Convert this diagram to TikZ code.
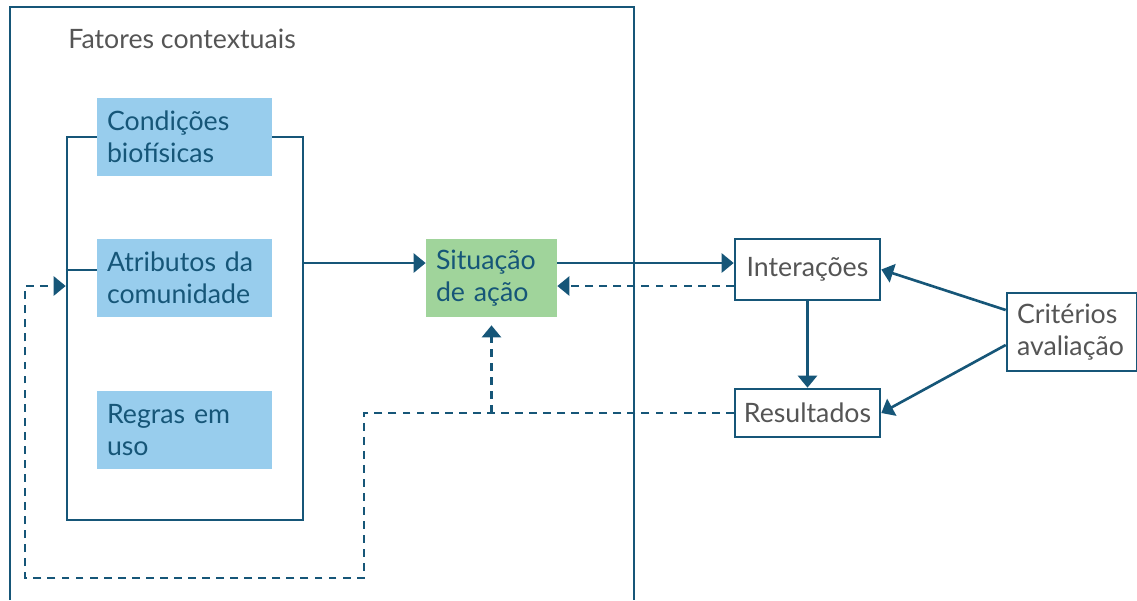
\documentclass[tikz,border=0pt]{standalone}
\usepackage{fontspec}
\setmainfont{Lato}
\usetikzlibrary{positioning}
\usetikzlibrary{arrows.meta}
\definecolor{azulescuro}{RGB}{22,86,120}
\definecolor{azulclaro}{RGB}{152,205,237}
\definecolor{verdeclaro}{RGB}{160,212,155}
\definecolor{cinza}{RGB}{85,85,85}
\tikzset{
    texto/.style={font=\fontsize{15.2pt}{18.2pt}\selectfont},
    fator/.style={texto, fill=azulclaro, text=azulescuro, minimum width=3.5cm,
        minimum height=1.56cm, text width=3.1cm, inner xsep=0.2cm, align=left},
    resultado/.style={texto, draw=azulescuro, line width=1.5pt, fill=white,
        text=cinza, minimum width=2.9cm},
    seta/.style={draw=azulescuro, line width=1.5pt,
        -{Triangle[length=0.24cm, width=0.38cm]}},
    tracejada/.style={seta, dash pattern=on 4.5pt off 3.5pt}
}

\begin{document}
\begin{tikzpicture}[x=0.02cm, y=-0.02cm]
    \useasboundingbox (0, 0) rectangle (1137, 600);
    \draw[azulescuro, line width=1.5pt] (10, 600) -- (10, 7) -- (634, 7) -- (634, 600);
    \node[texto, text=cinza, anchor=base west, inner sep=0pt] (titulo) at (68, 48)
        {Fatores contextuais};

    \node[draw=azulescuro, line width=1.5pt, minimum width=4.72cm,
        minimum height=7.66cm, inner sep=0pt] (grupo) at (185, 328.5) {};
    \node[fator] (cond) at (184.5, 137) {Condições\\biofísicas};
    \node[fator] (atrib) at (184.5, 278) {Atributos da\\comunidade};
    \node[fator] (regras) at (184.5, 430) {Regras em\\uso};

    \node[fator, fill=verdeclaro, minimum width=2.62cm, text width=2.22cm] (sit)
        at (491.5, 278) {Situação\\de ação};
    \node[resultado, minimum height=1.22cm] (inter) at (807.5, 269.5) {Interações};
    \node[resultado, minimum height=0.96cm] (res) at (807.5, 413) {Resultados};
    \node[resultado, minimum width=2.6cm, text width=2.2cm, inner xsep=0.2cm,
        minimum height=1.56cm, align=left] (crit) at (1072, 332) {Critérios\\avaliação};

    \draw[azulescuro, line width=1.5pt] (grupo.west |- 0,270) -- (atrib.west |- 0,270);
    \draw[seta] (grupo.east |- 0,263) -- (sit.west |- 0,263);
    \draw[seta] (sit.east |- 0,263) -- (inter.west |- 0,263);
    \draw[tracejada] (inter.west |- 0,286) -- (sit.east |- 0,286);
    \draw[seta] (inter.south) -- (res.north);
    \draw[seta] ([yshift=0.44cm]crit.west) -- (inter.east);
    \draw[seta] ([yshift=-0.26cm]crit.west) -- (res.east);

    \draw[tracejada] (res.west) -| (364, 578) -| (25, 286) -- (grupo.west |- 25,286);
    \draw[tracejada, shorten >=0.16cm] (sit.south |- res.west) -- (sit.south);

    % \draw[help lines, step=50] (0,0) grid (1137,600);
\end{tikzpicture}
\end{document}
